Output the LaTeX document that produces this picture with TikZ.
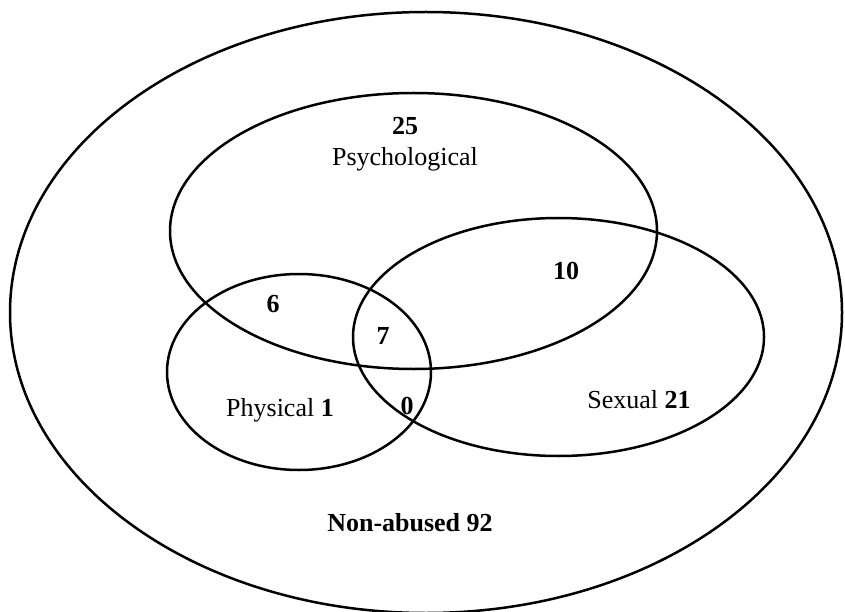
\documentclass[tikz,border=0pt]{standalone}
\usepackage{fontspec}
\setmainfont{Liberation Serif}
\begin{document}
\begin{tikzpicture}[x=1pt,y=-1pt,
  set/.style={draw=black,line width=2.5pt},
  lbl/.style={font=\fontsize{26}{30}\selectfont,inner sep=0pt},
  num/.style={font=\fontsize{26}{30}\selectfont\bfseries,inner sep=0pt}]
\useasboundingbox (0,0) rectangle (845,612);
% the four sets: everyone, psychological, sexual, physical
\draw[set] (426,312.5) ellipse [x radius=416, y radius=300.5];
\draw[set] (413.5,231) ellipse [x radius=243.5, y radius=138];
\draw[set] (558.5,337) ellipse [x radius=205.5, y radius=119];
\draw[set] (299,372) ellipse [x radius=132, y radius=98];
% counts and labels
\node[num] (n25) at (405,126) {25};
\node[lbl] (psy) at (405,159) {Psychological};
\node[num] (n10) at (566,271) {10};
\node[num] (n6) at (273,304) {6};
\node[num] (n7) at (383,336) {7};
\node[num] (n0) at (407,406) {0};
\node[lbl] (phy) at (280,410) {Physical \textbf{1}};
\node[lbl] (sex) at (639,400) {Sexual \textbf{21}};
\node[num] (non) at (410,523) {Non-abused 92};
\end{tikzpicture}
\end{document}
